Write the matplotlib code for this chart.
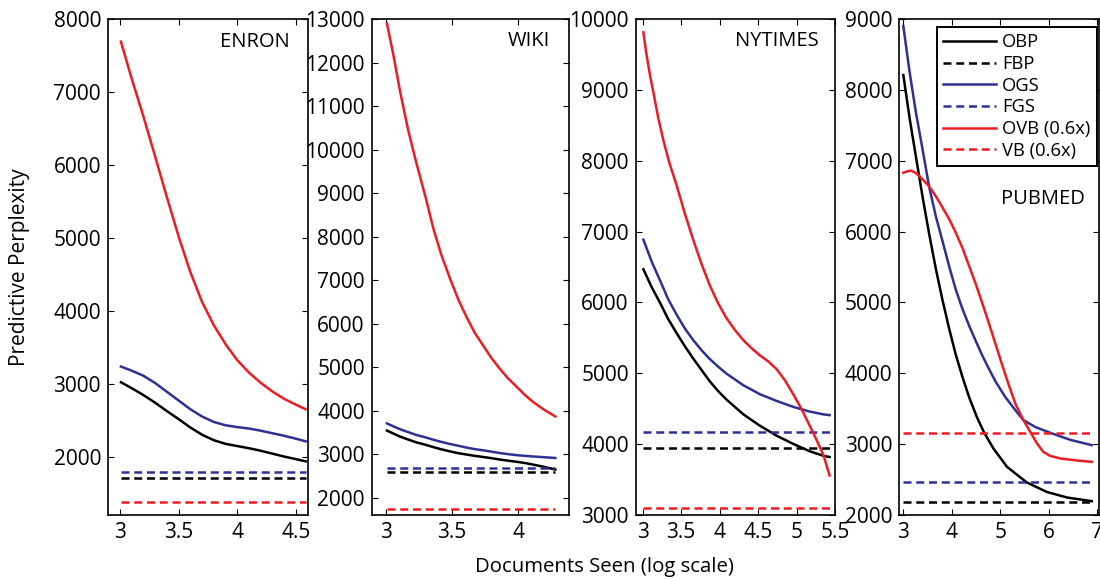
import numpy as np
import matplotlib
matplotlib.use('Agg')
import matplotlib.pyplot as plt

plt.rcParams['font.family'] = ['Open Sans', 'DejaVu Sans']

BLACK = 'k'
BLUE = '#2E3192'
RED = '#ED1C24'

# ---- ENRON ----
enron_x = [3.01, 3.1, 3.2, 3.3, 3.4, 3.5, 3.6, 3.7, 3.8, 3.9, 4.0, 4.1, 4.2, 4.3, 4.4, 4.5, 4.58]
enron_obp = [3020, 2940, 2845, 2740, 2625, 2515, 2400, 2300, 2225, 2175, 2145, 2115, 2080, 2040, 2000, 1965, 1936]
enron_ogs = [3235, 3180, 3110, 3010, 2890, 2770, 2650, 2550, 2475, 2430, 2405, 2385, 2355, 2320, 2285, 2245, 2210]
enron_ovb = [7690, 7190, 6670, 6120, 5560, 5020, 4530, 4120, 3800, 3540, 3320, 3150, 3010, 2890, 2790, 2710, 2650]
enron_fbp, enron_fgs, enron_vb = 1709, 1790, 1381
enron_span = (3.01, 4.58)

# ---- WIKI ----
wiki_x = [3.01, 3.06, 3.11, 3.17, 3.23, 3.30, 3.36, 3.42, 3.49, 3.55, 3.61, 3.67, 3.74, 3.80,
          3.86, 3.92, 3.99, 4.05, 4.11, 4.19, 4.28]
wiki_obp = [3540, 3470, 3400, 3335, 3271, 3215, 3160, 3110, 3059, 3020, 2990, 2960, 2932, 2905,
            2875, 2850, 2822, 2795, 2760, 2710, 2645]
wiki_ogs = [3705, 3635, 3570, 3505, 3441, 3385, 3330, 3280, 3229, 3190, 3150, 3115, 3085, 3055,
            3025, 3000, 2975, 2960, 2945, 2930, 2910]
wiki_ovb = [12900, 12150, 11322, 10450, 9712, 8920, 8186, 7580, 7000, 6540, 6153, 5800, 5475, 5200,
            4966, 4750, 4542, 4360, 4203, 4030, 3864]
wiki_fbp, wiki_fgs, wiki_vb = 2590, 2669, 1731
wiki_span = (3.01, 4.28)

# ---- NYTIMES ----
ny_x = [3.01, 3.12, 3.23, 3.33, 3.44, 3.55, 3.66, 3.77, 3.87, 3.98, 4.09, 4.31, 4.52, 4.74,
        4.96, 5.17, 5.35, 5.43]
ny_obp = [6468, 6210, 5987, 5770, 5570, 5380, 5204, 5040, 4890, 4750, 4629, 4420, 4263, 4120,
          4002, 3900, 3835, 3819]
ny_ogs = [6886, 6570, 6301, 6050, 5831, 5630, 5465, 5320, 5204, 5095, 4995, 4830, 4707, 4610,
          4525, 4460, 4420, 4410]
ny_x_ovb = [3.01, 3.05, 3.10, 3.14, 3.20, 3.27, 3.35, 3.44, 3.55, 3.66, 3.77, 3.87, 3.98, 4.09,
            4.20, 4.31, 4.42, 4.52, 4.63, 4.74, 4.85, 4.96, 5.07, 5.17, 5.26, 5.35, 5.43]
ny_ovb = [9812, 9500, 9180, 8966, 8620, 8286, 7960, 7659, 7250, 6876, 6530, 6249, 5990, 5778,
          5610, 5465, 5350, 5256, 5170, 5060, 4900, 4700, 4485, 4264, 4060, 3845, 3558]
ny_fbp, ny_fgs, ny_vb = 3940, 4170, 3100
ny_span = (3.01, 5.43)

# ---- PUBMED ----
pm_x_obp = [3.0, 3.13, 3.26, 3.4, 3.53, 3.67, 3.81, 3.95, 4.08, 4.22, 4.36, 4.52, 4.67, 4.86,
            5.14, 5.55, 5.96, 6.38, 6.89]
pm_obp = [8210, 7600, 7058, 6480, 5980, 5480, 5030, 4620, 4270, 3950, 3660, 3380, 3160, 2939,
          2680, 2459, 2326, 2247, 2195]
pm_x_ogs = [3.0, 3.13, 3.26, 3.4, 3.53, 3.67, 3.81, 3.95, 4.08, 4.22, 4.36, 4.5, 4.63, 4.77,
            4.9, 5.1, 5.32, 5.48, 5.73, 6.07, 6.45, 6.89]
pm_ogs = [8900, 8250, 7681, 7150, 6642, 6220, 5863, 5500, 5187, 4910, 4668, 4450, 4252, 4060,
          3889, 3670, 3473, 3339, 3240, 3151, 3060, 2986]
pm_x_ovb = [3.0, 3.08, 3.16, 3.25, 3.35, 3.45, 3.53, 3.65, 3.75, 3.85, 3.945, 4.08, 4.22, 4.35,
            4.49, 4.63, 4.77, 4.9, 5.04, 5.18, 5.32, 5.48, 5.62, 5.76, 5.89, 6.03, 6.24, 6.58, 6.89]
pm_ovb = [6830, 6850, 6860, 6830, 6770, 6700, 6640, 6520, 6410, 6290, 6180, 5990, 5770, 5530,
          5270, 4990, 4700, 4420, 4120, 3830, 3560, 3339, 3174, 3010, 2891, 2835, 2798, 2770, 2750]
pm_fbp, pm_fgs, pm_vb = 2185, 2459, 3151
pm_span = (3.0, 6.86)

panels = [
    dict(name='ENRON', xo=enron_x, obp=enron_obp, xg=enron_x, ogs=enron_ogs,
         xv=enron_x, ovb=enron_ovb, fbp=enron_fbp, fgs=enron_fgs, vb=enron_vb, span=enron_span,
         xlim=(2.9, 4.6), ylim=(1200, 8000), xt=[3, 3.5, 4, 4.5], yt=range(2000, 8001, 1000),
         left=108, right=308, title_xy=(0.91, 0.954)),
    dict(name='WIKI', xo=wiki_x, obp=wiki_obp, xg=wiki_x, ogs=wiki_ogs,
         xv=wiki_x, ovb=wiki_ovb, fbp=wiki_fbp, fgs=wiki_fgs, vb=wiki_vb, span=wiki_span,
         xlim=(2.895, 4.383), ylim=(1600, 13000), xt=[3, 3.5, 4], yt=range(2000, 13001, 1000),
         left=371.7, right=569, title_xy=(0.904, 0.956)),
    dict(name='NYTIMES', xo=ny_x, obp=ny_obp, xg=ny_x, ogs=ny_ogs,
         xv=ny_x_ovb, ovb=ny_ovb, fbp=ny_fbp, fgs=ny_fgs, vb=ny_vb, span=ny_span,
         xlim=(2.91, 5.5), ylim=(3000, 10000), xt=[3, 3.5, 4, 4.5, 5, 5.5], yt=range(3000, 10001, 1000),
         left=635.7, right=835, title_xy=(0.916, 0.955)),
    dict(name='PUBMED', xo=pm_x_obp, obp=pm_obp, xg=pm_x_ogs, ogs=pm_ogs,
         xv=pm_x_ovb, ovb=pm_ovb, fbp=pm_fbp, fgs=pm_fgs, vb=pm_vb, span=pm_span,
         xlim=(2.917, 7.04), ylim=(2000, 9000), xt=[3, 4, 5, 6, 7], yt=range(2000, 9001, 1000),
         left=899.3, right=1099, title_xy=(0.928, 0.638)),
]

W, H = 1100, 579
fig = plt.figure(figsize=(W / 100, H / 100), dpi=100)
top, bottom = 19, 515
lw = 1.8
dash = (3.2, 1.9)

for p in panels:
    ax = fig.add_axes([p['left'] / W, 1 - bottom / H, (p['right'] - p['left']) / W, (bottom - top) / H])
    x0, x1 = p['span']
    ax.plot(p['xo'], p['obp'], color=BLACK, lw=lw, label='OBP')
    ax.plot([x0, x1], [p['fbp'], p['fbp']], color=BLACK, lw=lw, dashes=dash, label='FBP')
    ax.plot(p['xg'], p['ogs'], color=BLUE, lw=lw, label='OGS')
    ax.plot([x0, x1], [p['fgs'], p['fgs']], color=BLUE, lw=lw, dashes=dash, label='FGS')
    ax.plot(p['xv'], p['ovb'], color=RED, lw=lw, label='OVB (0.6x)')
    ax.plot([x0, x1], [p['vb'], p['vb']], color=RED, lw=lw, dashes=dash, label='VB (0.6x)')
    ax.set_xlim(p['xlim'])
    ax.set_ylim(p['ylim'])
    ax.set_xticks(p['xt'])
    ax.set_xticklabels(['%g' % t for t in p['xt']])
    ax.set_yticks(list(p['yt']))
    ax.tick_params(direction='in', top=True, right=True, length=4, width=0.8,
                   labelsize=15, pad=5)
    for s in ax.spines.values():
        s.set_linewidth(1.2)
    ax.text(p['title_xy'][0], p['title_xy'][1], p['name'], transform=ax.transAxes,
            ha='right', va='center', fontsize=14.5)
    if p['name'] == 'PUBMED':
        leg = ax.legend(loc='upper right', bbox_to_anchor=(0.988, 0.984), borderaxespad=0,
                        fontsize=13.2, handlelength=2.9, handletextpad=0.3, labelspacing=0.2,
                        fancybox=False, framealpha=1, borderpad=0.35)
        leg.get_frame().set_edgecolor('k')
        leg.get_frame().set_linewidth(1.4)

fig.text(20 / W, 1 - 267 / H, 'Predictive Perplexity', rotation=90, ha='center', va='center', fontsize=15)
fig.text(604 / W, 1 - 567 / H, 'Documents Seen (log scale)', ha='center', va='center', fontsize=14.7)

fig.savefig('out.png', dpi=100)
